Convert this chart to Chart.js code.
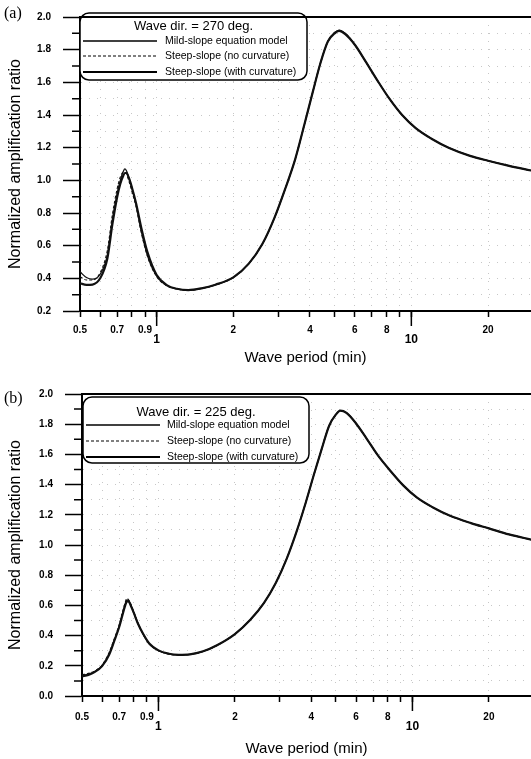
<!DOCTYPE html>
<html>
<head>
<meta charset="utf-8">
<script src="https://cdn.jsdelivr.net/npm/chart.js@4.4.1/dist/chart.umd.min.js"></script>
<style>
  body { margin: 0; background: #fff; }
  #page { position: relative; width: 531px; height: 759px; overflow: hidden; }
  .panel { position: absolute; left: 0; width: 531px; }
  #panelA { top: 0; height: 370px; }
  #panelB { top: 370px; height: 389px; }
  .tag { position: absolute; left: 4px; font-family: "Liberation Serif", "DejaVu Serif", serif; font-size: 16px; line-height: 16px; }
</style>
</head>
<body>
<div id="page">
  <div class="panel" id="panelA"><canvas id="chartA" width="531" height="370"></canvas></div>
  <div class="panel" id="panelB"><canvas id="chartB" width="531" height="389"></canvas></div>
  <div class="tag" style="top:5px">(a)</div>
  <div class="tag" style="top:390px">(b)</div>
</div>
<script>
// Wave periods (min), shared by both panels
const periods = [0.5, 0.53, 0.56, 0.6, 0.64, 0.67, 0.7, 0.72, 0.74, 0.75, 0.76, 0.78, 0.8, 0.83, 0.87, 0.92,
                 1.0, 1.1, 1.2, 1.33, 1.5, 1.7, 2.0, 2.3, 2.6, 2.9, 3.2, 3.5, 3.8, 4.1, 4.4, 4.7,
                 5.0, 5.2, 5.5, 6.0, 6.6, 7.3, 8.2, 9.2, 10.4, 12, 14, 17, 20, 24, 29.5];

const seriesNames = ['Mild-slope equation model', 'Steep-slope (no curvature)', 'Steep-slope (with curvature)'];

// x axis ticks (log scale); 1 and 10 are printed lower and bigger
const xTickValues = [0.5, 0.6, 0.7, 0.8, 0.9, 1, 2, 3, 4, 5, 6, 7, 8, 9, 10, 20];
const xTickLabels = ['0.5', '', '0.7', '', '0.9', '1', '2', '', '4', '', '6', '', '8', '', '10', '20'];
const xDecades = [1, 10];

// (a) Wave dir. = 270 deg.
const mildA = [0.44, 0.405, 0.395, 0.425, 0.54, 0.76, 0.92, 1.0, 1.055, 1.07, 1.06, 1.01, 0.95, 0.85, 0.69, 0.54,
               0.415, 0.355, 0.335, 0.327, 0.338, 0.36, 0.405, 0.49, 0.61, 0.77, 0.95, 1.13, 1.34, 1.54, 1.72, 1.85,
               1.905, 1.92, 1.90, 1.83, 1.73, 1.62, 1.50, 1.40, 1.32, 1.255, 1.20, 1.15, 1.12, 1.09, 1.06];
const noCurvA = [0.41, 0.39, 0.39, 0.435, 0.57, 0.79, 0.95, 1.02, 1.05, 1.05, 1.04, 0.99, 0.93, 0.84, 0.68, 0.535,
                 0.41, 0.353, 0.334, 0.326, 0.337, 0.36, 0.405, 0.49, 0.61, 0.77, 0.95, 1.13, 1.34, 1.54, 1.72, 1.85,
                 1.905, 1.915, 1.90, 1.83, 1.73, 1.62, 1.50, 1.40, 1.32, 1.255, 1.20, 1.15, 1.12, 1.09, 1.06];
const withCurvA = [0.37, 0.36, 0.362, 0.40, 0.52, 0.73, 0.90, 0.98, 1.03, 1.045, 1.045, 1.01, 0.955, 0.86, 0.71, 0.56,
                   0.42, 0.357, 0.336, 0.328, 0.339, 0.361, 0.406, 0.49, 0.61, 0.77, 0.95, 1.13, 1.34, 1.54, 1.72, 1.85,
                   1.90, 1.915, 1.895, 1.83, 1.73, 1.62, 1.50, 1.40, 1.32, 1.255, 1.20, 1.15, 1.12, 1.09, 1.06];

// (b) Wave dir. = 225 deg.
const mildB = [0.135, 0.145, 0.16, 0.20, 0.28, 0.37, 0.46, 0.54, 0.61, 0.635, 0.635, 0.60, 0.55, 0.48, 0.41, 0.345,
               0.30, 0.278, 0.272, 0.275, 0.295, 0.335, 0.41, 0.505, 0.615, 0.75, 0.91, 1.09, 1.28, 1.47, 1.64, 1.79,
               1.865, 1.89, 1.875, 1.805, 1.705, 1.595, 1.49, 1.395, 1.315, 1.25, 1.195, 1.145, 1.11, 1.07, 1.035];
const noCurvB = [0.14, 0.15, 0.165, 0.205, 0.29, 0.38, 0.47, 0.55, 0.62, 0.645, 0.64, 0.605, 0.555, 0.485, 0.41, 0.345,
                 0.30, 0.278, 0.272, 0.275, 0.295, 0.335, 0.41, 0.505, 0.615, 0.75, 0.91, 1.09, 1.28, 1.47, 1.64, 1.79,
                 1.865, 1.89, 1.875, 1.805, 1.705, 1.595, 1.49, 1.395, 1.315, 1.25, 1.195, 1.145, 1.11, 1.07, 1.035];
const withCurvB = [0.13, 0.14, 0.158, 0.198, 0.275, 0.365, 0.455, 0.53, 0.60, 0.625, 0.628, 0.595, 0.55, 0.48, 0.412, 0.348,
                   0.302, 0.28, 0.273, 0.276, 0.296, 0.336, 0.41, 0.505, 0.615, 0.75, 0.91, 1.09, 1.28, 1.47, 1.64, 1.79,
                   1.865, 1.89, 1.875, 1.805, 1.705, 1.595, 1.49, 1.395, 1.315, 1.25, 1.195, 1.145, 1.11, 1.07, 1.035];

const FONT = '"Liberation Sans", Arial, Helvetica, sans-serif';
const tickFont = { family: FONT, size: 10, weight: 'bold', lineHeight: 1.0 };
const decadeFont = { family: FONT, size: 12, weight: 'bold', lineHeight: 0.8 };
const gridColor = 'rgba(0,0,0,0.22)';

const seriesWidths = [1.3, 1.1, 2.2];
const seriesDashes = [[], [3, 2], []];

function isMajorY(v) {
    return Math.round(v * 10) % 2 === 0;
}

// top frame line, short minor ticks on y, long ticks at 1 and 10
const axisExtras = {
    id: 'axisExtras',
    afterDraw(chart) {
        const { ctx, chartArea, scales } = chart;
        ctx.save();
        ctx.strokeStyle = '#000';
        ctx.lineWidth = 2;
        ctx.beginPath();
        ctx.moveTo(chartArea.left - 1, chartArea.top);
        ctx.lineTo(chartArea.right, chartArea.top);
        ctx.stroke();

        ctx.lineWidth = 1.5;
        ctx.beginPath();
        scales.y.ticks.forEach(t => {
            if (isMajorY(t.value)) return;
            const y = scales.y.getPixelForValue(t.value);
            ctx.moveTo(chartArea.left - 8, y);
            ctx.lineTo(chartArea.left, y);
        });
        xDecades.forEach(v => {
            const x = scales.x.getPixelForValue(v);
            ctx.moveTo(x, chartArea.bottom);
            ctx.lineTo(x, chartArea.bottom + 15);
        });
        ctx.stroke();
        ctx.restore();
    }
};

// legend in a rounded box, drawn from the datasets
const boxLegend = {
    id: 'boxLegend',
    afterDatasetsDraw(chart, args, opts) {
        const ctx = chart.ctx;
        const b = opts.box;
        ctx.save();
        ctx.fillStyle = '#fff';
        ctx.strokeStyle = '#000';
        ctx.lineWidth = 1.5;
        ctx.beginPath();
        ctx.roundRect(b.left, b.top, b.right - b.left, b.bottom - b.top, 9);
        ctx.fill();
        ctx.stroke();

        ctx.fillStyle = '#000';
        ctx.textBaseline = 'middle';
        ctx.textAlign = 'center';
        ctx.font = '13px ' + FONT;
        ctx.fillText(opts.title, (b.left + b.right) / 2, opts.titleY);

        ctx.textAlign = 'left';
        ctx.font = '10.5px ' + FONT;
        chart.data.datasets.forEach((ds, i) => {
            const y = opts.rowY[i];
            ctx.lineWidth = ds.borderWidth;
            ctx.setLineDash(ds.borderDash || []);
            ctx.beginPath();
            ctx.moveTo(opts.lineX[0], y);
            ctx.lineTo(opts.lineX[1], y);
            ctx.stroke();
            ctx.setLineDash([]);
            ctx.fillText(ds.label, opts.textX, y);
        });
        ctx.restore();
    }
};

function makeChart(canvasId, values, cfg) {
    const datasets = values.map((vals, i) => ({
        label: seriesNames[i],
        data: periods.map((p, k) => ({ x: p, y: vals[k] })),
        borderColor: '#111',
        borderWidth: seriesWidths[i],
        borderDash: seriesDashes[i],
        pointRadius: 0,
        cubicInterpolationMode: 'monotone',
        fill: false
    }));

    return new Chart(document.getElementById(canvasId), {
        type: 'line',
        data: { datasets: datasets },
        plugins: [axisExtras, boxLegend],
        options: {
            responsive: false,
            animation: false,
            layout: { padding: { top: cfg.top, left: 0, right: 0, bottom: 0 } },
            scales: {
                x: {
                    type: 'logarithmic',
                    min: 0.5,
                    max: cfg.xMax,
                    afterBuildTicks: s => { s.ticks = xTickValues.map(v => ({ value: v })); },
                    afterFit: s => { s.height = cfg.xAxisHeight; },
                    ticks: {
                        autoSkip: false,
                        maxRotation: 0,
                        padding: cfg.xTickPadding,
                        color: '#000',
                        font: c => (c.tick && xDecades.includes(c.tick.value)) ? decadeFont : tickFont,
                        callback: v => {
                            const t = xTickLabels[xTickValues.indexOf(v)] || '';
                            return xDecades.includes(v) ? ['', t] : t;
                        }
                    },
                    grid: { color: gridColor, tickColor: '#000', tickLength: 6, tickWidth: 1.5 },
                    border: { color: '#000', width: 2, dash: [1, 7] },
                    title: {
                        display: true,
                        text: 'Wave period (min)',
                        color: '#000',
                        font: { family: FONT, size: 15 },
                        padding: { top: 0, bottom: cfg.xTitlePad }
                    }
                },
                y: {
                    min: cfg.yMin,
                    max: 2.0,
                    afterFit: s => { s.width = cfg.yAxisWidth; },
                    ticks: {
                        stepSize: 0.1,
                        autoSkip: false,
                        padding: 12,
                        color: '#000',
                        font: tickFont,
                        callback: v => isMajorY(v) ? v.toFixed(1) : ''
                    },
                    grid: {
                        color: gridColor,
                        tickColor: c => (c.tick && !isMajorY(c.tick.value)) ? 'rgba(0,0,0,0)' : '#000',
                        tickLength: 17,
                        tickWidth: 1.5
                    },
                    border: { color: '#000', width: 2, dash: [1, 7] },
                    title: {
                        display: true,
                        text: 'Normalized amplification ratio',
                        color: '#000',
                        font: { family: FONT, size: 16 },
                        padding: { top: 6, bottom: 0 }
                    }
                }
            },
            plugins: {
                legend: { display: false },
                tooltip: { enabled: false },
                boxLegend: cfg.legend
            }
        }
    });
}

makeChart('chartA', [mildA, noCurvA, withCurvA], {
    top: 10, yMin: 0.2, xMax: 29.5, yAxisWidth: 80, xAxisHeight: 59, xTickPadding: 8, xTitlePad: 3,
    legend: {
        title: 'Wave dir. = 270 deg.',
        box: { left: 80, top: 13, right: 307, bottom: 80 },
        titleY: 26, rowY: [41, 56, 72], lineX: [83, 157], textX: 165
    }
});

makeChart('chartB', [mildB, noCurvB, withCurvB], {
    top: 24, yMin: 0.0, xMax: 29.3, yAxisWidth: 82, xAxisHeight: 63, xTickPadding: 10, xTitlePad: 1,
    legend: {
        title: 'Wave dir. = 225 deg.',
        box: { left: 83, top: 27, right: 309, bottom: 93 },
        titleY: 42, rowY: [55, 71, 87], lineX: [86, 160], textX: 167
    }
});
</script>
</body>
</html>
